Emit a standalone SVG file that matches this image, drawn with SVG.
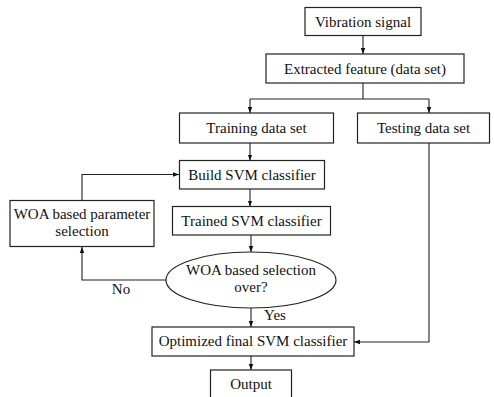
<svg xmlns="http://www.w3.org/2000/svg" width="494" height="397" viewBox="0 0 494 397" font-family="'Liberation Serif', 'Times New Roman', Times, serif">
<style>
.box{fill:#fff;stroke:#222;stroke-width:1.2}
text{font-family:'Liberation Serif','Times New Roman',Times,serif;font-size:15px;fill:#111;text-anchor:middle}
.ln{fill:none;stroke:#222;stroke-width:1.1}
</style>
<defs>
<marker id="ah" viewBox="0 0 8 8" refX="8" refY="4" markerWidth="6" markerHeight="6" orient="auto" markerUnits="userSpaceOnUse">
<path d="M0,1 L8,4 L0,7 Z" fill="#111"/>
</marker>
</defs>
<rect width="494" height="397" fill="#fff"/>
<g id="connectors">
<path class="ln" d="M363,36 V54" marker-end="url(#ah)"/>
<path class="ln" d="M363,83 V99"/>
<path class="ln" d="M250,99 H429"/>
<path class="ln" d="M250,99 V113" marker-end="url(#ah)"/>
<path class="ln" d="M429,99 V113" marker-end="url(#ah)"/>
<path class="ln" d="M250,143 V160.5" marker-end="url(#ah)"/>
<path class="ln" d="M250,189 V206.5" marker-end="url(#ah)"/>
<path class="ln" d="M251,235 V252" marker-end="url(#ah)"/>
<path class="ln" d="M251,308 V327" marker-end="url(#ah)"/>
<path class="ln" d="M251,356 V370" marker-end="url(#ah)"/>
<path class="ln" d="M429,143 V342 H354" marker-end="url(#ah)"/>
<path class="ln" d="M166,280 H82 V247" marker-end="url(#ah)"/>
<path class="ln" d="M82,200.5 V174.5 H179" marker-end="url(#ah)"/>
<text x="275" y="320">Yes</text>
<text x="121" y="294">No</text>
</g>
<g id="vibration">
<rect class="box" x="305" y="7.5" width="116" height="28"/>
<text x="363" y="27">Vibration signal</text>
</g>
<g id="extracted">
<rect class="box" x="266" y="54" width="198" height="29"/>
<text x="365" y="74">Extracted feature (data set)</text>
</g>
<g id="training">
<rect class="box" x="179.5" y="113" width="154" height="30"/>
<text x="256.5" y="133">Training data set</text>
</g>
<g id="testing">
<rect class="box" x="357.5" y="113" width="132" height="30"/>
<text x="423.5" y="133">Testing data set</text>
</g>
<g id="build">
<rect class="box" x="179.5" y="160.5" width="145" height="28.5"/>
<text x="252" y="179.5">Build SVM classifier</text>
</g>
<g id="trained">
<rect class="box" x="172.5" y="206.5" width="158" height="28.5"/>
<text x="251.5" y="226">Trained SVM classifier</text>
</g>
<g id="decision">
<ellipse class="box" cx="251" cy="280" rx="85" ry="28"/>
<text x="251" y="275">WOA based selection</text>
<text x="251" y="292">over?</text>
</g>
<g id="woa">
<rect class="box" x="10" y="200.5" width="144" height="46"/>
<text x="82" y="218.5">WOA based parameter</text>
<text x="82" y="235.5">selection</text>
</g>
<g id="optimized">
<rect class="box" x="152" y="327" width="202" height="29"/>
<text x="253" y="346">Optimized final SVM classifier</text>
</g>
<g id="output">
<rect class="box" x="210.5" y="370" width="81" height="35"/>
<text x="251" y="388.5">Output</text>
</g>
</svg>
